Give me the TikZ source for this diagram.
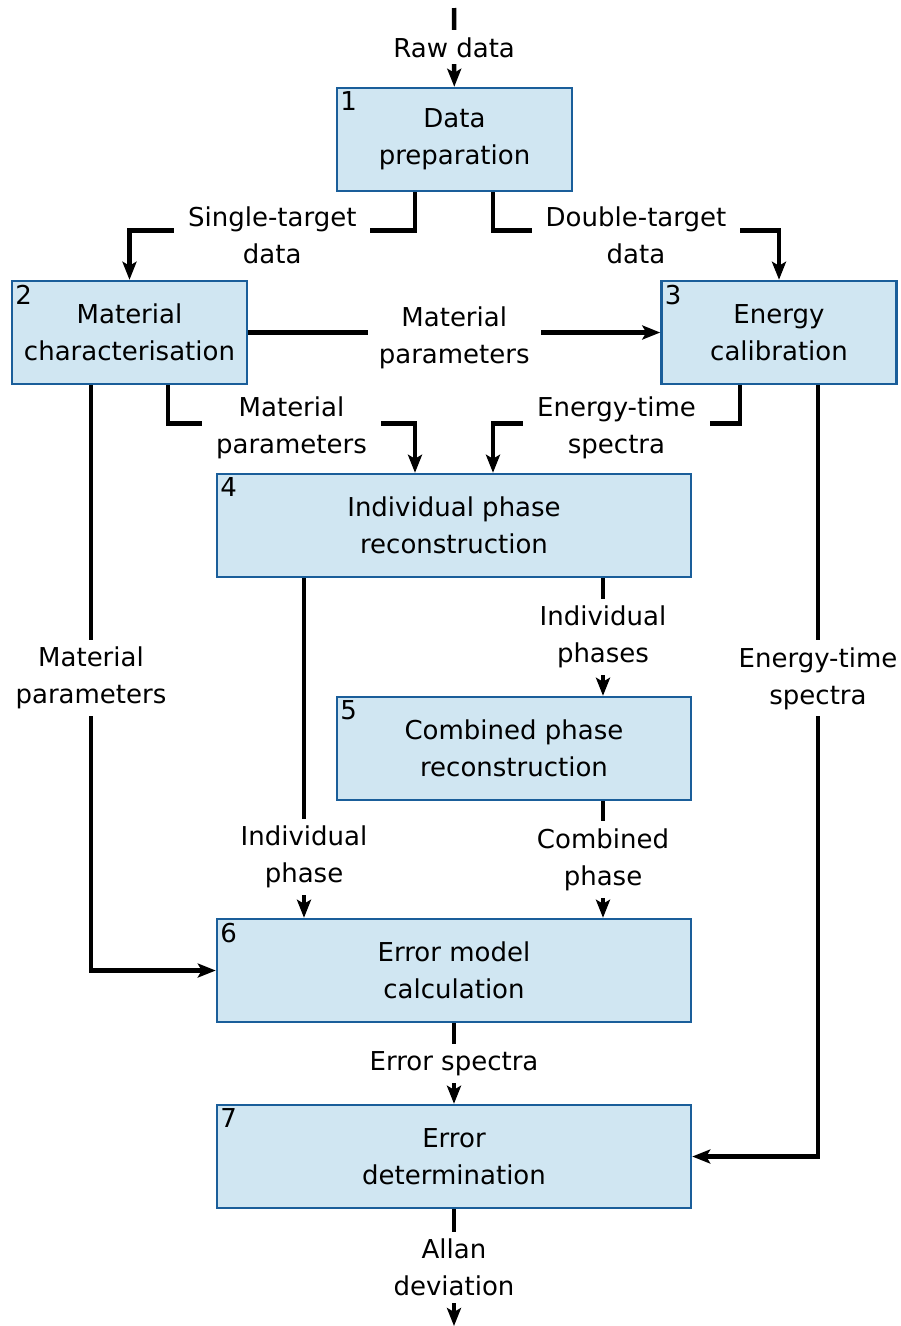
\documentclass[tikz,border=0pt]{standalone}
\usepackage{fontspec}
\setmainfont{DejaVu Sans}
\usetikzlibrary{arrows.meta,positioning}
\definecolor{edge}{HTML}{1A5E9A}
\definecolor{pale}{HTML}{D0E6F2}

\begin{document}
\begin{tikzpicture}[x=1pt,y=-1pt, every node/.style={font=\fontsize{26}{37}\selectfont,align=center}, b/.style={draw=edge,line width=2.5pt,fill=pale,minimum height=103pt}, w/.style={b,minimum width=235pt}, wide/.style={b,minimum width=474pt}, l/.style={fill=white,inner xsep=14pt,inner ysep=7pt}, lh/.style={l,yshift=-5pt}, a/.style={-{Stealth[length=18pt,width=14pt,inset=4pt]},line width=4.5pt}, num/.style={label={[anchor=north west,inner xsep=4.5pt,inner ysep=5pt]north west:#1}}]
\useasboundingbox (0,0) rectangle (901,1326);
\coordinate (raw) at (454,8);
\coordinate (allan) at (454,1326);
\node[w,num=1] (prep) at (454.5,139.5) {Data\\preparation};
\node[w,num=2] (mat) at (129.5,332.5) {Material\\characterisation};
\node[w,num=3] (cal) at (779,332.5) {Energy\\calibration};
\node[wide,num=4] (indiv) at (454,525.5) {Individual phase\\reconstruction};
\node[b,minimum width=354pt,num=5] (comb) at (514,748.5) {Combined phase\\reconstruction};
\node[wide,num=6] (model) at (454,970.5) {Error model\\calculation};
\node[wide,num=7] (det) at (454,1156.5) {Error\\determination};
\draw[a] (raw) -- node[l]{Raw data} (prep);
\draw[a] ([xshift=-39.5pt]prep.south) -- ++(0,38) -| node[lh,pos=0.25]{Single-target\\data} (mat.north);
\draw[a] ([xshift=38.5pt]prep.south) -- ++(0,38) -| node[lh,pos=0.25]{Double-target\\data} (cal.north);
\draw[a] (mat) -- node[lh,inner xsep=11pt]{Material\\parameters} (cal);
\draw[a] ([xshift=38.5pt]mat.south) -- ++(0,38) -| node[lh,pos=0.25]{Material\\parameters} ([xshift=-39pt]indiv.north);
\draw[a] ([xshift=-39pt]cal.south) -- ++(0,38) -| node[lh,pos=0.25]{Energy-time\\spectra} ([xshift=39pt]indiv.north);
\draw[a] ([xshift=-38.5pt]mat.south) |- node[l,pos=0.25]{Material\\parameters} (model.west);
\draw[a] ([xshift=39pt]cal.south) |- node[l,pos=0.19]{Energy-time\\spectra} (det.east);
\draw[a] ([xshift=-150pt]indiv.south) -- node[l,pos=0.82]{Individual\\phase} ([xshift=-150pt]model.north);
\draw[a] ([xshift=149pt]indiv.south) -- node[l]{Individual\\phases} ([xshift=89pt]comb.north);
\draw[a] ([xshift=89pt]comb.south) -- node[l]{Combined\\phase} ([xshift=149pt]model.north);
\draw[a] (model) -- node[l]{Error spectra} (det);
\draw[a] (det) -- node[l]{Allan\\deviation} (allan);
\end{tikzpicture}
\end{document}
